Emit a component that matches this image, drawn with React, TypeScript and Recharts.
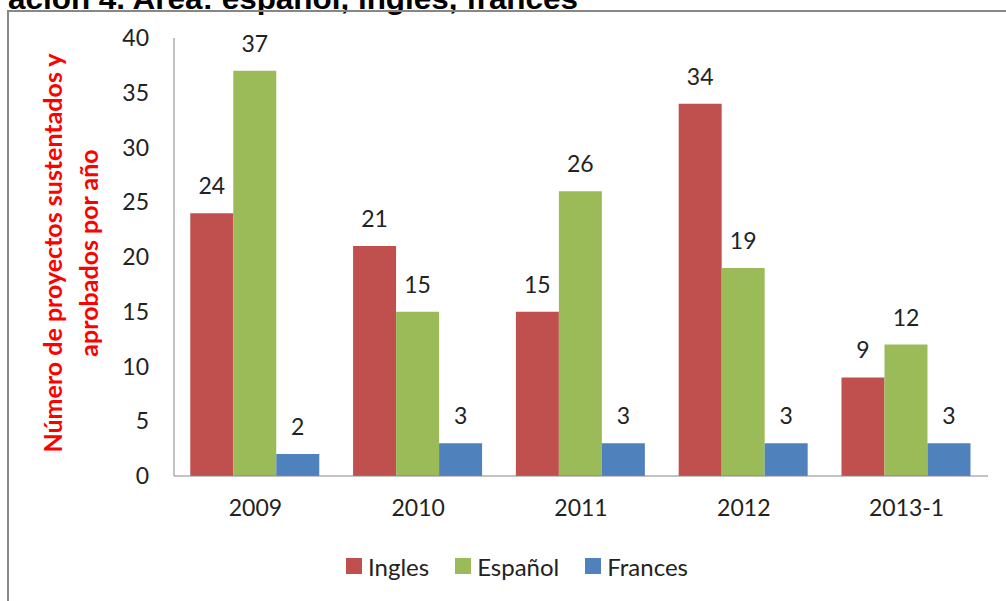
import React from "react";
import { BarChart, Bar, XAxis, YAxis, Legend, LabelList } from "recharts";

// años / periodos
const years = ["2009", "2010", "2011", "2012", "2013-1"];
// proyectos sustentados por idioma
const ingles = [24, 21, 15, 34, 9];
const espanol = [37, 15, 26, 19, 12];
const frances = [2, 3, 3, 3, 3];
const yTicks = [0, 5, 10, 15, 20, 25, 30, 35, 40];

const series = [
  { key: "Ingles", color: "#C0504D" },
  { key: "Español", color: "#9BBB59" },
  { key: "Frances", color: "#4F81BD" },
];

const data = years.map((y, i) => ({
  name: y,
  Ingles: ingles[i],
  Español: espanol[i],
  Frances: frances[i],
}));

const FONT = "Lato, 'Open Sans', sans-serif";
const FS = 23;

// etiqueta del eje Y en dos líneas
const renderYLabel = () => (
  <g>
    <text
      x={52}
      y={253}
      transform="rotate(-90, 52, 253)"
      textAnchor="middle"
      dominantBaseline="central"
      fill="#FF0000"
      fontWeight="bold"
      fontSize={25}
      fontFamily={FONT}
    >
      Número de proyectos sustentados y
    </text>
    <text
      x={88}
      y={253}
      transform="rotate(-90, 88, 253)"
      textAnchor="middle"
      dominantBaseline="central"
      fill="#FF0000"
      fontWeight="bold"
      fontSize={25}
      fontFamily={FONT}
    >
      aprobados  por año
    </text>
  </g>
);

const renderLegend = () => (
  <div
    style={{
      display: "flex",
      justifyContent: "center",
      fontFamily: FONT,
      fontSize: 24,
      color: "#222",
      height: 28,
      alignItems: "center",
    }}
  >
    {series.map((s) => (
      <div
        key={s.key}
        style={{ display: "flex", alignItems: "center", margin: "0 13px" }}
      >
        <span
          style={{
            width: 16,
            height: 16,
            background: s.color,
            display: "inline-block",
            marginRight: 6,
          }}
        />
        <span>{s.key}</span>
      </div>
    ))}
  </div>
);

export default function App() {
  return (
    <div style={{ position: "absolute", left: 0, top: 0, width: 1006, height: 601, overflow: "hidden", background: "#fff" }}>
      <svg width={1006} height={601} style={{ position: "absolute", left: 0, top: 0 }}>
        <text
          x={8}
          y={9}
          fontFamily="'Liberation Sans', Arial, sans-serif"
          fontWeight="bold"
          fontSize={30}
          textLength={570}
          lengthAdjust="spacingAndGlyphs"
          fill="#000"
        >
          ación 4. Area: español, ingles, frances
        </text>
        <rect x={8} y={11} width={1010} height={610} fill="none" stroke="#878787" strokeWidth={2} />
      </svg>
      <div style={{ position: "absolute", left: 0, top: 0 }}>
        <BarChart
          width={1006}
          height={601}
          data={data}
          margin={{ top: 38, right: 18, bottom: 67, left: 0 }}
          barCategoryGap="10%"
          barGap={0}
        >
          <XAxis
            dataKey="name"
            height={30}
            axisLine={{ stroke: "#868686" }}
            tickLine={false}
            tickSize={0}
            tickMargin={24}
            tick={{ fontSize: FS, fill: "#222", fontFamily: FONT }}
          />
          <YAxis
            width={174}
            domain={[0, 40]}
            ticks={yTicks}
            interval={0}
            axisLine={{ stroke: "#868686" }}
            tickLine={false}
            tickSize={0}
            tickMargin={25}
            tick={{ fontSize: FS, fill: "#222", fontFamily: FONT }}
            label={{ content: renderYLabel }}
          />
          <Legend
            content={renderLegend}
            wrapperStyle={{ left: 0, top: 552, width: 1034, height: 28 }}
          />
          {series.map((s) => (
            <Bar key={s.key} dataKey={s.key} fill={s.color} isAnimationActive={false}>
              <LabelList
                dataKey={s.key}
                position="top"
                offset={19}
                fill="#222"
                fontSize={FS}
                fontFamily={FONT}
              />
            </Bar>
          ))}
        </BarChart>
      </div>
    </div>
  );
}
